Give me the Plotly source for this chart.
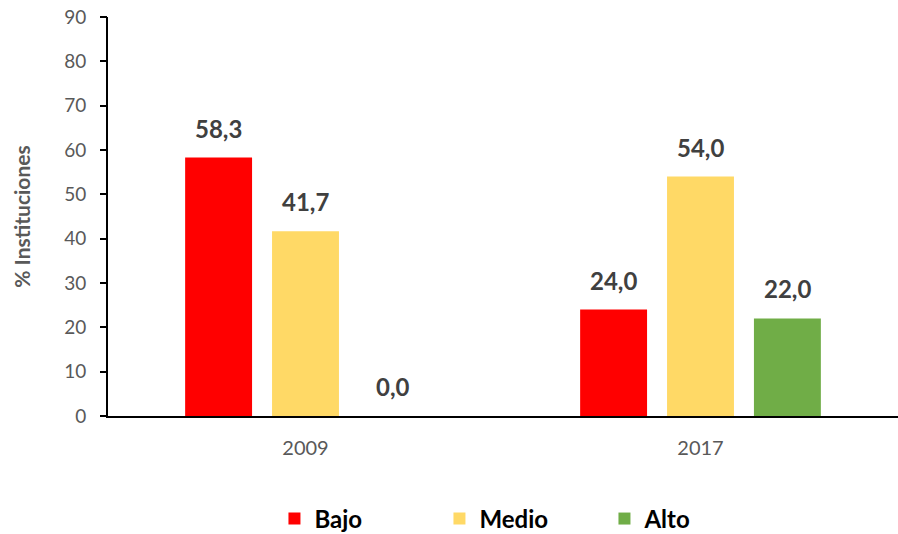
import plotly.graph_objects as go

years = ["2009", "2017"]
series = ["Bajo", "Medio", "Alto"]
values = {
    "Bajo": [58.3, 24.0],
    "Medio": [41.7, 54.0],
    "Alto": [0.0, 22.0],
}
colors = {"Bajo": "#FF0000", "Medio": "#FFD966", "Alto": "#70AD47"}
y_ticks = [0, 10, 20, 30, 40, 50, 60, 70, 80, 90]

FONT = "Lato, 'Open Sans', sans-serif"

fig = go.Figure()
for s in series:
    fig.add_trace(go.Bar(name=s, x=years, y=values[s], marker_color=colors[s],
                         marker_line_width=0))

# invisible helper trace so the tick-mark axis (y2) is drawn
fig.add_trace(go.Scatter(x=years, y=[None] * len(years), yaxis="y2", mode="markers",
                         showlegend=False, hoverinfo="skip"))

offsets = [-87, 0, 87]
for i, s in enumerate(series):
    for j, v in enumerate(values[s]):
        fig.add_annotation(x=j, y=v, xref="x", yref="y", xshift=offsets[i], yshift=13,
                           yanchor="bottom", showarrow=False,
                           text=f"{v:.1f}".replace(".", ","),
                           font=dict(family=FONT, size=24, color="#404040", weight="bold"))

fig.update_layout(
    width=898, height=534,
    margin=dict(l=108, r=0, t=17, b=118, autoexpand=False),
    paper_bgcolor="white", plot_bgcolor="white",
    barmode="group", bargap=0.34, bargroupgap=0.23,
    separators=",.",
    showlegend=True,
    legend=dict(orientation="h", x=0.524, xanchor="center", y=-0.258, yanchor="middle",
                font=dict(family=FONT, size=24, color="#000000", weight="bold"),
                entrywidth=120, itemsizing="constant", traceorder="normal"),
    xaxis=dict(type="category", range=[-0.5, 1.5], showline=True, linecolor="#000000",
               linewidth=2, ticks="outside", ticklen=13, tickcolor="rgba(0,0,0,0)",
               automargin=False,
               tickfont=dict(family=FONT, size=20, color="#595959")),
    yaxis=dict(range=[0, 90], tickvals=y_ticks, showgrid=False, zeroline=False,
               showline=True, linecolor="#000000", linewidth=2, automargin=False,
               ticks="outside", ticklen=16, tickwidth=2, tickcolor="rgba(0,0,0,0)",
               ticklabeloverflow="allow",
               tickfont=dict(family=FONT, size=19, color="#595959"),
               title=dict(text="% Instituciones", standoff=28,
                          font=dict(family=FONT, size=21, color="#595959", weight="bold"))),
    yaxis2=dict(range=[0, 90], tickvals=y_ticks, overlaying="y", side="left",
                anchor="x", showgrid=False, zeroline=False, showline=False,
                showticklabels=False, automargin=False,
                ticks="outside", ticklen=7, tickwidth=2, tickcolor="#000000"),
)

fig.write_html("out.html", config={"displayModeBar": False},
               post_script="document.body.style.margin='0';")
